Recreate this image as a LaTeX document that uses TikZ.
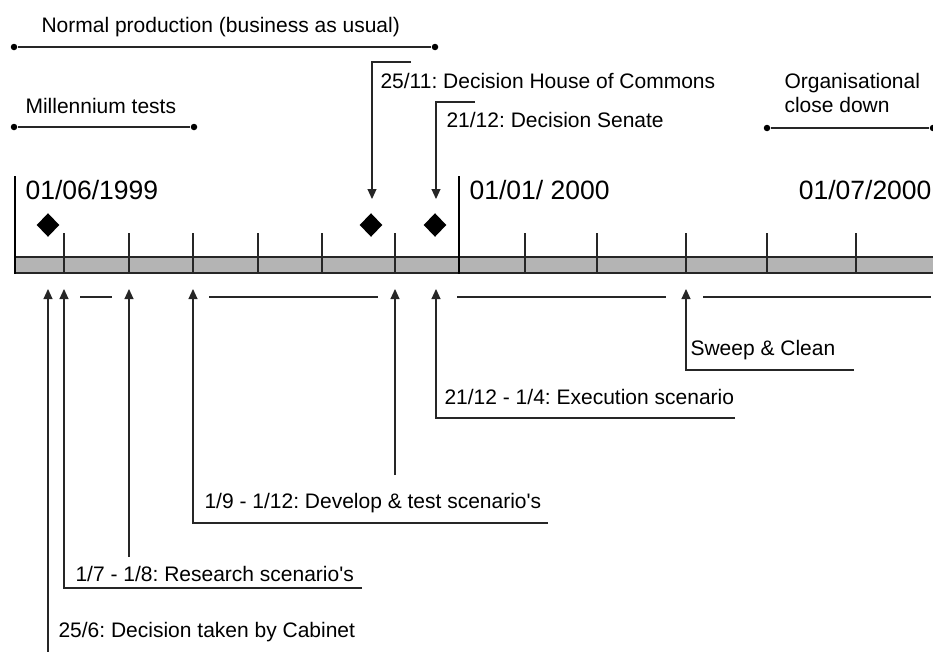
\documentclass[tikz,border=0pt]{standalone}
\usepackage{fontspec}
\setmainfont{Liberation Sans}
\usetikzlibrary{arrows.meta,positioning,shapes.geometric}

\definecolor{barfill}{RGB}{180,180,180}
\tikzset{
  lbl/.style={inner sep=0pt, anchor=base west, font=\fontsize{21}{24}\selectfont},
  datelbl/.style={inner sep=0pt, anchor=base west, font=\fontsize{26.5}{30}\selectfont},
  dot/.style={circle, fill, inner sep=0pt, minimum size=6.5pt},
  milestone/.style={diamond, fill, inner sep=0pt, minimum width=23pt, minimum height=24pt},
  arr/.style={-{Triangle[width=9pt,length=10pt]}},
  thin line/.style={line width=1.1pt, draw=black!85},
}
\frenchspacing

\begin{document}
\begin{tikzpicture}[x=1pt,y=-1pt,thin line]
\useasboundingbox (0,0) rectangle (933,651);

				% periods above the bar
				\node[lbl] (normal) at (41,32) {Normal production (business as usual)};
				\node[dot] (normalA) at (14,47) {};
				\node[dot] (normalB) at (435,47) {};
				\node[lbl] (mill) at (25,113) {Millennium tests};
				\node[dot] (millA) at (14,127) {};
				\node[dot] (millB) at (194,127) {};
				\node[lbl] (orga) at (784,88) {Organisational};
				\node[lbl] (orgb) at (784,112) {close down};
				\node[dot] (orgA) at (767,128) {};
				\node[dot] (orgB) at (933,128) {};

				\draw [-] (normalA) to (normalB);
				\draw [-] (millA) to (millB);
				\draw [-] (orgA) to (orgB);

				% decisions from above
				\node[lbl] (commons) at (380,88) {25/11: Decision House of Commons};
				\node[lbl] (senate) at (446,127) {21/12: Decision Senate};
				\coordinate (commonsA) at (411,62);
				\coordinate (commonsB) at (372,62);
				\coordinate (commonsC) at (372,199);
				\coordinate (senateA) at (475,102);
				\coordinate (senateB) at (436,102);
				\coordinate (senateC) at (436,199);
				\draw [arr] (commonsA) to (commonsB) to (commonsC);
				\draw [arr] (senateA) to (senateB) to (senateC);

				% dates
				\node[datelbl] (d1) at (25,199) {01/06/1999};
				\node[datelbl] (d2) at (469,199) {01/01/ 2000};
				\node[datelbl, anchor=base east] (d3) at (932,199) {01/07/2000};

				\node[milestone] (m1) at (48,225) {};
				\node[milestone] (m2) at (371,225) {};
				\node[milestone] (m3) at (435,225) {};

				% the bar
				\draw [fill=barfill, line width=1.4pt, draw=black!85] (15,257) rectangle (936,273);
				\foreach \x in {64,129,193,258,322,395,525,597,686,767,856}
					\draw (\x,233) -- (\x,273);
				\draw [line width=2.4pt, draw=black] (15,176) -- (15,274);
				\draw [line width=2.4pt, draw=black] (459,176) -- (459,274);

				% activities below the bar
				\node[lbl] (sweep) at (690,355) {Sweep \& Clean};
				\node[lbl] (exec) at (444,404) {21/12 - 1/4: Execution scenario};
				\node[lbl] (dev) at (204,508) {1/9 - 1/12: Develop \& test scenario\textquotesingle s};
				\node[lbl] (res) at (75,581) {1/7 - 1/8: Research scenario\textquotesingle s};
				\node[lbl] (cab) at (58,637) {25/6: Decision taken by Cabinet};

				\coordinate (cabA) at (48,652);
				\coordinate (cabB) at (48,289);
				\coordinate (resA) at (362,588);
				\coordinate (resB) at (64,588);
				\coordinate (resC) at (64,289);
				\coordinate (resE) at (129,557);
				\coordinate (resF) at (129,289);
				\coordinate (devA) at (548,523);
				\coordinate (devB) at (193,523);
				\coordinate (devC) at (193,289);
				\coordinate (devE) at (395,475);
				\coordinate (devF) at (395,289);
				\coordinate (execA) at (735,418);
				\coordinate (execB) at (436,418);
				\coordinate (execC) at (436,289);
				\coordinate (sweepA) at (854,370);
				\coordinate (sweepB) at (686,370);
				\coordinate (sweepC) at (686,289);

				\draw [arr] (cabA) to (cabB);
				\draw [arr] (resA) to (resB) to (resC);
				\draw [arr] (resE) to (resF);
				\draw [arr] (devA) to (devB) to (devC);
				\draw [arr] (devE) to (devF);
				\draw [arr] (execA) to (execB) to (execC);
				\draw [arr] (sweepA) to (sweepB) to (sweepC);

				% spans
				\draw [-] (80,297) to (112,297);
				\draw [-] (209,297) to (378,297);
				\draw [-] (457,297) to (666,297);
				\draw [-] (703,297) to (931,297);
\end{tikzpicture}
\end{document}
